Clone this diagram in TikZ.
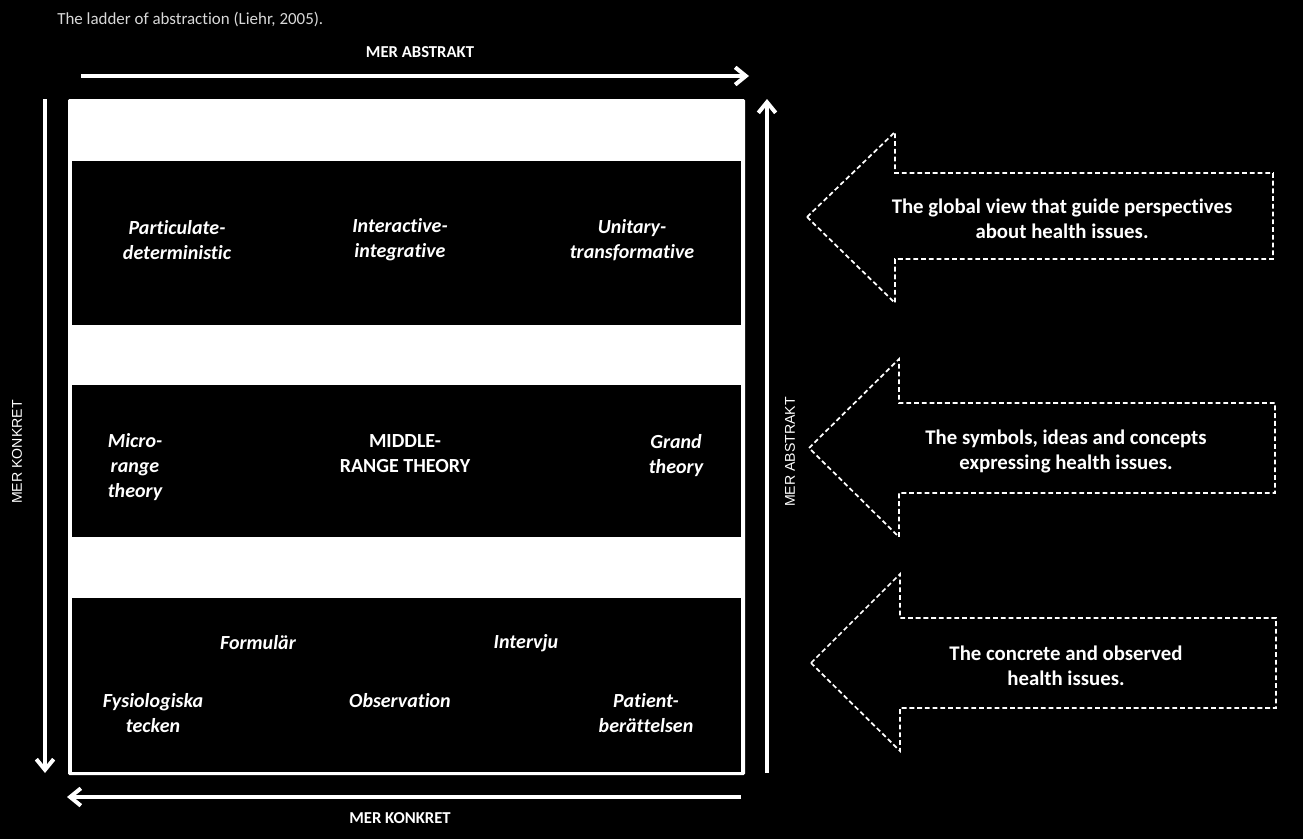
\documentclass[tikz,border=0pt]{standalone}
\usepackage{fontspec}
\setmainfont{Carlito}[Ligatures=NoCommon]
\newfontfamily\arialf{Liberation Sans}
\usetikzlibrary{arrows.meta}
\definecolor{titlegray}{RGB}{217,217,217}
\begin{document}
\begin{tikzpicture}[x=0.75pt,y=-0.75pt,
  every node/.style={text=white,inner sep=0pt},
  arr/.style={draw=white,line width=3pt,-{Straight Barb[length=8pt,width=13pt,line width=3pt]}},
  blk/.style={draw=white,line width=1.3pt,dash pattern=on 3.6pt off 2.2pt},
  bandtxt/.style={align=center,font=\bfseries\itshape\fontsize{15}{18.8}\selectfont},
  bandup/.style={align=center,font=\bfseries\fontsize{15}{18.8}\selectfont},
  sidetxt/.style={align=center,font=\bfseries\fontsize{15.6}{18.8}\selectfont},
  axtxt/.style={font=\bfseries\fontsize{12.5}{14}\selectfont},
  rottxt/.style={rotate=90,font=\arialf\fontsize{10.6}{12}\selectfont}]
% background and bounding box
\fill[black] (0,0) rectangle (1303,839);
\useasboundingbox (0,0) rectangle (1303,839);
% title
\node[anchor=west,text=titlegray,font=\fontsize{12.7}{14}\selectfont] (title) at (57,19) {The ladder of abstraction (Liehr, 2005).};
% white ladder box and black bands
\fill[white,rounded corners=1pt] (68,99) rectangle (745,775);
\fill[black] (72,161) rectangle (741,325);
\fill[black] (72,385) rectangle (741,537);
\fill[black] (72,598) rectangle (741,772);
% axis arrows
\coordinate (topA) at (81,76);
\coordinate (topB) at (749,76);
\coordinate (rgtA) at (767,773);
\coordinate (rgtB) at (767,99);
\coordinate (lftA) at (45,99);
\coordinate (lftB) at (45,773);
\coordinate (botA) at (741,797);
\coordinate (botB) at (67,797);
\draw[arr] (topA) -- (topB);
\draw[arr] (rgtA) -- (rgtB);
\draw[arr] (lftA) -- (lftB);
\draw[arr] (botA) -- (botB);
\node[axtxt] (abstop) at (420,52) {MER ABSTRAKT};
\node[axtxt] (konbot) at (400,818) {MER KONKRET};
\node[rottxt] (konlft) at (17,452) {MER KONKRET};
\node[rottxt] (absrgt) at (790,452) {MER ABSTRAKT};
% band 1
\node[bandtxt] (pd) at (177,240) {Particulate-\\deterministic};
\node[bandtxt] (ii) at (400,240) {Interactive-\\integrative};
\node[bandtxt] (ut) at (632,240) {Unitary-\\transformative};
% band 2
\node[bandtxt] (micro) at (135,467) {Micro-\\range\\theory};
\node[bandup] (middle) at (405,454) {MIDDLE-\\RANGE THEORY};
\node[bandtxt] (grand) at (676,456) {Grand\\theory};
% band 3
\node[bandtxt] (form) at (258,643) {Formulär};
\node[bandtxt] (interv) at (526,643) {Intervju};
\node[bandtxt] (fysio) at (153,713) {Fysiologiska\\tecken};
\node[bandtxt] (obs) at (400,701) {Observation};
\node[bandtxt] (pat) at (646,713) {Patient-\\berättelsen};
% dashed block arrows
\draw[blk] (807,217) -- (895,132) -- (895,173) -- (1273,173) -- (1273,259) -- (895,259) -- (895,303) -- cycle;
\draw[blk] (809,448) -- (899,359) -- (899,403) -- (1275,403) -- (1275,493) -- (899,493) -- (899,537) -- cycle;
\draw[blk] (811,663) -- (900,574) -- (900,618) -- (1276,618) -- (1276,708) -- (900,708) -- (900,751) -- cycle;
\node[sidetxt] (s1) at (1062,219) {The global view that guide perspectives\\about health issues.};
\node[sidetxt] (s2) at (1066,451) {The symbols, ideas and concepts\\expressing health issues.};
\node[sidetxt] (s3) at (1066,666) {The concrete and observed\\health issues.};
\end{tikzpicture}
\end{document}
